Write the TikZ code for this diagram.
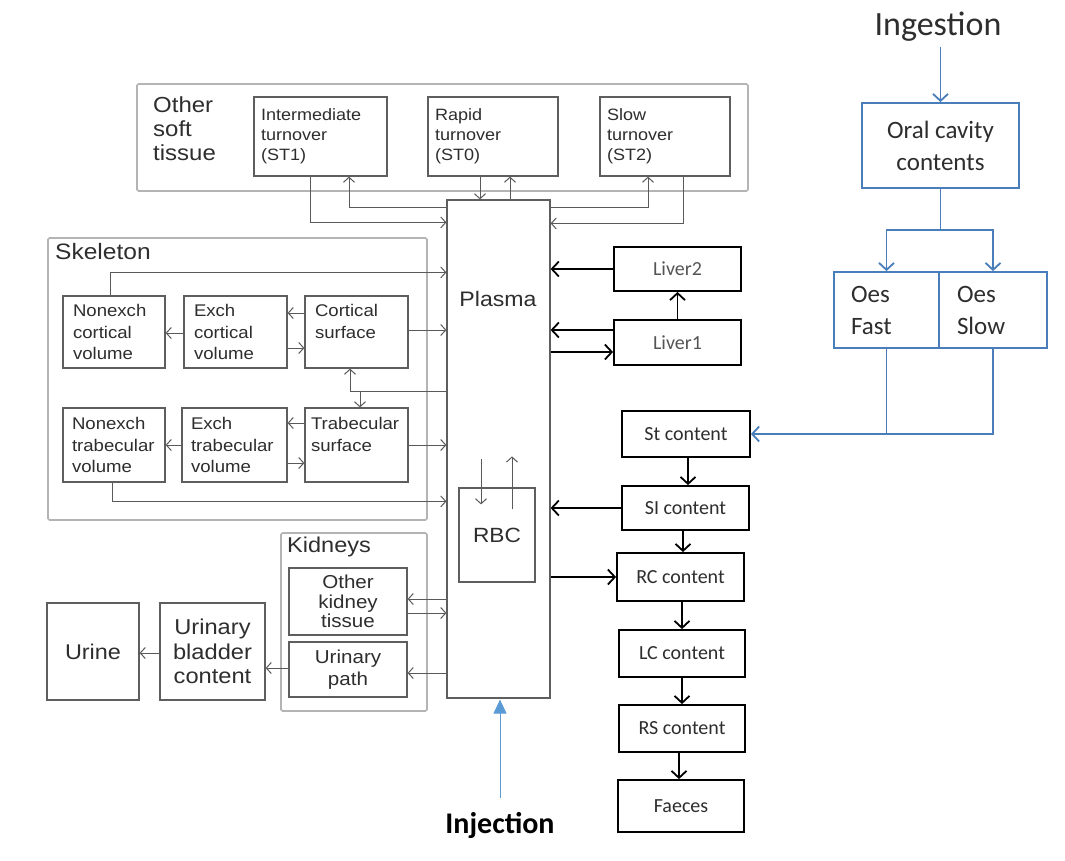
\documentclass[tikz,border=0pt]{standalone}
\usepackage{fontspec}
\usetikzlibrary{arrows.meta,calc}
\newfontfamily\arialf[FakeStretch=1.1]{Liberation Sans}
\newfontfamily\calibf{Carlito}
\definecolor{outg}{HTML}{B4B4B4}
\definecolor{inng}{HTML}{5E5E5E}
\definecolor{lineg}{HTML}{5A5A5A}
\definecolor{txtg}{HTML}{2E2E2E}
\definecolor{livtxt}{HTML}{555555}
\definecolor{bl}{HTML}{4A7EBB}
\definecolor{injb}{HTML}{5B9BD5}
\tikzset{
  outerbox/.style={draw=outg, line width=1.6pt, rounded corners=1.5pt, inner sep=0pt},
  gbox/.style={draw=inng, line width=1.2pt, inner sep=0pt, text=txtg, font=\arialf},
  kbox/.style={draw=black, line width=1.8pt, inner sep=0pt, font=\calibf\fontsize{20}{24}\selectfont},
  bbox/.style={draw=bl, line width=1.8pt, inner sep=0pt, font=\calibf\fontsize{25}{32}\selectfont, text=txtg},
  ga/.style={draw=lineg, line width=1pt, -{Straight Barb[length=5pt,width=11pt]}},
  gl/.style={draw=lineg, line width=1pt},
  ka/.style={draw=black, line width=1.8pt, -{Straight Barb[length=7pt,width=15pt]}},
  ba/.style={draw=bl, line width=1.8pt, -{Straight Barb[length=7pt,width=15pt]}},
  bl/.style={draw=bl, line width=1.8pt},
  lbl/.style={inner sep=0pt, text=txtg, font=\arialf},
  stb/.style={gbox, minimum height=79, inner xsep=7pt, align=left, font=\arialf\fontsize{16.4}{20}\selectfont},
  skb/.style={gbox, minimum height=72, inner xsep=10pt, align=left, font=\arialf\fontsize{16.9}{21.5}\selectfont},
}
\begin{document}
\begin{tikzpicture}[x=1pt,y=-1pt]
\useasboundingbox[fill=white] (0,0) rectangle (1065,860);

% ---------- Other soft tissue ----------
\node[outerbox, minimum width=611, minimum height=107] (ost) at (442.5,137.5) {};
\node[lbl, anchor=north west, align=left, font=\arialf\fontsize{21.8}{24}\selectfont] (osttxt) at (153,96) {Other\\soft\\tissue};
\node[stb, minimum width=133, text width=119] (st1) at (320.5,136.5) {Intermediate\\turnover\\(ST1)};
\node[stb, minimum width=130, text width=116] (st0) at (493,136.5) {Rapid\\turnover\\(ST0)};
\node[stb, minimum width=130, text width=116] (st2) at (665,136.5) {Slow\\turnover\\(ST2)};

% ---------- Plasma ----------
\node[gbox, minimum width=103, minimum height=498] (plasma) at (498.5,449) {};
\node[lbl, font=\arialf\fontsize{21}{24}\selectfont] (plasmatxt) at (498,299) {Plasma};
\node[gbox, minimum width=76, minimum height=94, font=\arialf\fontsize{20.6}{24}\selectfont] (rbc) at (497,535) {RBC};

% ---------- Skeleton ----------
\node[outerbox, minimum width=379, minimum height=282] (skel) at (237.5,379) {};
\node[lbl, anchor=north west, font=\arialf\fontsize{22.3}{25}\selectfont] (skeltxt) at (55,243) {Skeleton};
\node[skb, minimum width=102, text width=82] (nxc) at (114,332) {Nonexch\\cortical\\volume};
\node[skb, minimum width=103, text width=83] (exc) at (235.5,332) {Exch\\cortical\\volume};
\node[skb, minimum width=103, text width=83] (cs) at (356.5,332) {Cortical\\surface\\\mbox{}};
\node[skb, minimum width=102, minimum height=74, text width=84, inner xsep=9pt] (nxt) at (114,445) {Nonexch\\trabecular\\volume};
\node[skb, minimum width=105, minimum height=74, text width=87, inner xsep=9pt] (ext) at (234.5,445) {Exch\\trabecular\\volume};
\node[skb, minimum width=103, minimum height=74, text width=91, inner xsep=6pt] (ts) at (356.5,445) {Trabecular\\surface\\\mbox{}};

% ---------- Kidneys & urine ----------
\node[outerbox, minimum width=146, minimum height=178] (kid) at (354,622) {};
\node[lbl, anchor=north west, font=\arialf\fontsize{21.4}{24}\selectfont] (kidtxt) at (287,537) {Kidneys};
\node[gbox, minimum width=118, minimum height=67, align=center, font=\arialf\fontsize{18.7}{19.5}\selectfont] (okt) at (348,601.5) {Other\\kidney\\tissue};
\node[gbox, minimum width=118, minimum height=55, align=center, font=\arialf\fontsize{18.7}{22}\selectfont] (up) at (348,669.5) {Urinary\\path};
\node[gbox, minimum width=105, minimum height=97, align=center, font=\arialf\fontsize{21.5}{24.5}\selectfont] (ubc) at (212.5,651.5) {Urinary\\bladder\\content};
\node[gbox, minimum width=92, minimum height=97, font=\arialf\fontsize{21.3}{24}\selectfont] (urine) at (93,651.5) {Urine};

% ---------- Liver ----------
\node[kbox, minimum width=127, minimum height=44, text=livtxt] (liver2) at (677.5,269) {Liver2};
\node[kbox, minimum width=127, minimum height=45, text=livtxt] (liver1) at (677.5,342.5) {Liver1};

% ---------- GI tract ----------
\node[kbox, minimum width=128, minimum height=46, text=txtg] (st) at (686,434) {St content};
\node[kbox, minimum width=127, minimum height=44, text=txtg] (si) at (685.5,508) {SI content};
\node[kbox, minimum width=127, minimum height=48, text=txtg] (rc) at (680.5,577) {RC content};
\node[kbox, minimum width=126, minimum height=47, text=txtg] (lc) at (682,653.5) {LC content};
\node[kbox, minimum width=126, minimum height=47, text=txtg] (rs) at (682,728.5) {RS content};
\node[kbox, minimum width=126, minimum height=52, text=txtg] (faeces) at (681,806) {Faeces};

% ---------- Ingestion side ----------
\node[inner sep=0pt, text=txtg, font=\calibf\fontsize{34}{38}\selectfont] (ingest) at (938,27) {Ingestion};
\node[bbox, minimum width=157, minimum height=85, align=center] (oral) at (940.5,145.5) {Oral cavity\\contents};
\node[bbox, minimum width=105, minimum height=76, text width=71, inner xsep=17pt, align=left] (oesf) at (886.5,310) {Oes\\Fast};
\node[bbox, minimum width=108, minimum height=76, text width=72, inner xsep=18pt, align=left] (oess) at (993,310) {Oes\\Slow};

\node[inner sep=0pt, text=black, font=\calibf\bfseries\fontsize{30}{34}\selectfont] (inj) at (500,825) {Injection};

% ---------- Connectors: soft tissue ----------
\draw[ga] ([xshift=-10.5pt]st1.south) |- ([yshift=-23pt]plasma.north west);
\draw[ga] ([yshift=-8pt]plasma.north west) -| ([xshift=28.5pt]st1.south);
\draw[ga] ([xshift=-13pt]st0.south) -- ([xshift=-13pt]st0.south |- plasma.north);
\draw[ga] ([xshift=17pt]st0.south |- plasma.north) -- ([xshift=17pt]st0.south);
\draw[ga] ([yshift=-8pt]plasma.north east) -| ([xshift=-17pt]st2.south);
\draw[ga] ([xshift=18pt]st2.south) |- ([yshift=-24pt]plasma.north east);

% ---------- Connectors: skeleton ----------
\draw[ga] ([xshift=-4pt]nxc.north) |- ([yshift=-73pt]plasma.north west);
\draw[ga] ([yshift=19pt]cs.west) -- ([yshift=19pt]exc.east);
\draw[ga] ([yshift=-16pt]exc.east) -- ([yshift=-16pt]cs.west);
\draw[ga] ([yshift=-1pt]exc.west) -- ([yshift=-1pt]nxc.east);
\draw[ga] ([yshift=2pt]cs.east) -- ([yshift=2pt]cs.east -| plasma.west);
\coordinate (j) at ([yshift=-192pt]plasma.north west);
\draw[ga] (j) -| ([xshift=-6.5pt]cs.south);
\draw[ga] ([xshift=3.5pt]ts.north |- j) -- ([xshift=3.5pt]ts.north);
\draw[ga] ([yshift=22pt]ts.west) -- ([yshift=22pt]ext.east);
\draw[ga] ([yshift=-18pt]ext.east) -- ([yshift=-18pt]ts.west);
\draw[ga] (ext.west) -- (nxt.east);
\draw[ga] (ts.east) -- (ts.east -| plasma.west);
\draw[ga] ([xshift=-2pt]nxt.south) |- ([yshift=-302pt]plasma.north west);

% ---------- Connectors: RBC ----------
\draw[ga] ([xshift=-16pt,yshift=28pt]rbc.north) -- ([xshift=-16pt,yshift=-17pt]rbc.north);
\draw[ga] ([xshift=15pt,yshift=-22pt]rbc.north) -- ([xshift=15pt,yshift=31pt]rbc.north);

% ---------- Connectors: kidneys ----------
\draw[ga] ([yshift=2.5pt]okt.east -| plasma.west) -- ([yshift=2.5pt]okt.east);
\draw[ga] ([yshift=-11.5pt]okt.east) -- ([yshift=-11.5pt]okt.east -| plasma.west);
\draw[ga] ([yshift=-3.5pt]up.east -| plasma.west) -- ([yshift=-3.5pt]up.east);
\draw[ga] ([yshift=1.5pt]up.west) -- ([yshift=1.5pt]up.west -| ubc.east);
\draw[ga] ([yshift=-1.5pt]ubc.west) -- ([yshift=-1.5pt]ubc.west -| urine.east);

% ---------- Connectors: liver ----------
\draw[ka] (liver2.west) -- (liver2.west -| plasma.east);
\draw[ka] ([yshift=12.5pt]liver1.west) -- ([yshift=12.5pt]liver1.west -| plasma.east);
\draw[ka] ([yshift=-9.5pt]liver1.west -| plasma.east) -- ([yshift=-9.5pt]liver1.west);
\draw[ka] (liver1.north) -- (liver2.south);

% ---------- Connectors: GI ----------
\draw[ka] ([xshift=2pt]st.south) -- ([xshift=2pt]st.south |- si.north);
\draw[ka] ([xshift=-2.5pt]si.south) -- ([xshift=-2.5pt]si.south |- rc.north);
\draw[ka] ([xshift=1.5pt]rc.south) -- ([xshift=1.5pt]rc.south |- lc.north);
\draw[ka] (lc.south) -- (rs.north);
\draw[ka] ([xshift=-3pt]rs.south) -- ([xshift=-3pt]rs.south |- faeces.north);
\draw[ka] (si.west) -- (si.west -| plasma.east);
\draw[ka] (rc.west -| plasma.east) -- (rc.west);

% ---------- Connectors: ingestion ----------
\draw[ba, shorten <=5pt] (ingest.south -| oral.north) -- (oral.north);
\coordinate (br) at ([yshift=-41pt]oral.south);
\draw[bl] (oral.south) -- (br);
\draw[ba] (br) -| (oesf.north);
\draw[ba] (br) -| (oess.north);
\draw[ba] (oesf.south) |- (st.east);
\draw[bl] (oess.south) |- (oesf.south |- st.east);

% ---------- Injection ----------
\draw[draw=injb, line width=1pt, shorten <=14pt, shorten >=1pt, -{Triangle[length=14pt,width=13pt]}, injb] (inj.north) -- (inj.north |- plasma.south);
\end{tikzpicture}
\end{document}
